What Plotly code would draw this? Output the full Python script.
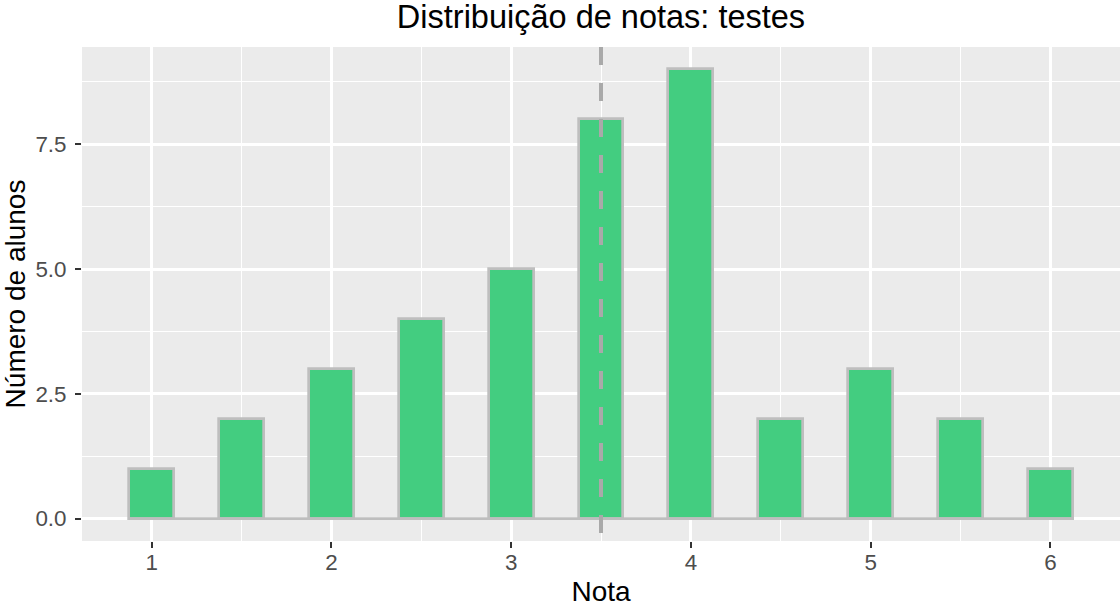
import plotly.graph_objects as go

# Data
notas = [1.0, 1.5, 2.0, 2.5, 3.0, 3.5, 4.0, 4.5, 5.0, 5.5, 6.0]
contagens = [1, 2, 3, 4, 5, 8, 9, 2, 3, 2, 1]
largura_bin = 0.25
media = 3.5
x_ticks = [1, 2, 3, 4, 5, 6]
y_ticks = [0, 2.5, 5.0, 7.5]
y_tick_labels = ["0.0", "2.5", "5.0", "7.5"]

titulo = "Distribuição de notas: testes"
x_titulo = "Nota"
y_titulo = "Número de alunos"

FONT = "Liberation Sans, Arial, Helvetica, sans-serif"
FILL = "#43CD80"
EDGE = "#BEBEBE"
VLINE = "#A9A9A9"

W, H = 1120, 610

# ggplot-like expansion
x_lo = min(notas) - largura_bin / 2
x_hi = max(notas) + largura_bin / 2
x_pad = 0.05 * (x_hi - x_lo)
y_max = max(contagens)
y_pad = 0.05 * y_max

fig = go.Figure()

# zero-count bins outline along the baseline
fig.add_trace(go.Scatter(
    x=[x_lo, x_hi], y=[0, 0], mode="lines",
    line=dict(color=EDGE, width=2.7),
    hoverinfo="skip", showlegend=False,
))

fig.add_trace(go.Bar(
    x=notas, y=contagens, width=largura_bin,
    marker=dict(color=FILL, line=dict(color=EDGE, width=2.7)),
    showlegend=False,
))

fig.add_shape(
    type="line", xref="x", yref="paper",
    x0=media, x1=media, y0=1, y1=0,
    line=dict(color=VLINE, width=4, dash="18px,18px"),
    layer="above",
)

ml, mt, mr, mb = 82, 47, 0, 69

fig.update_layout(
    template="none",
    width=W, height=H,
    margin=dict(l=ml, r=mr, t=mt, b=mb, autoexpand=False),
    paper_bgcolor="white",
    plot_bgcolor="#EBEBEB",
    font=dict(family=FONT, color="black"),
    title=dict(
        text=titulo, x=(ml + (W - mr)) / 2 / W, xanchor="center",
        y=1 - 17 / H, yanchor="middle", yref="container",
        font=dict(size=32.5, color="black", family=FONT),
        automargin=False,
    ),
    bargap=0,
)

fig.update_xaxes(
    automargin=False,
    range=[x_lo - x_pad, x_hi + x_pad],
    tickvals=x_ticks, ticktext=[str(t) for t in x_ticks],
    ticks="outside", ticklen=6, tickwidth=2, tickcolor="#333333",
    ticklabelstandoff=-5,
    tickfont=dict(size=22.4, color="#4D4D4D", family=FONT),
    showgrid=True, gridcolor="white", gridwidth=2.7,
    minor=dict(tickvals=[1.5, 2.5, 3.5, 4.5, 5.5], showgrid=True,
               gridcolor="white", gridwidth=1.35, ticks=""),
    zeroline=False, showline=False,
    title=dict(text=x_titulo, font=dict(size=28, color="black", family=FONT), standoff=7),
)

fig.update_yaxes(
    automargin=False,
    range=[-y_pad, y_max + y_pad],
    tickvals=y_ticks, ticktext=y_tick_labels,
    ticks="outside", ticklen=6, tickwidth=2, tickcolor="#333333",
    ticklabelstandoff=4,
    tickfont=dict(size=22.4, color="#4D4D4D", family=FONT),
    showgrid=True, gridcolor="white", gridwidth=2.7,
    minor=dict(tickvals=[1.25, 3.75, 6.25, 8.75], showgrid=True,
               gridcolor="white", gridwidth=1.35, ticks=""),
    zeroline=False, showline=False,
    title=dict(text=y_titulo, font=dict(size=28, color="black", family=FONT), standoff=10),
)

# remove the default 8px page margin so the 1120x610 figure fills the window
fig.write_html(
    "out.html",
    config={"displayModeBar": False},
    post_script="document.body.style.margin='0';",
)
